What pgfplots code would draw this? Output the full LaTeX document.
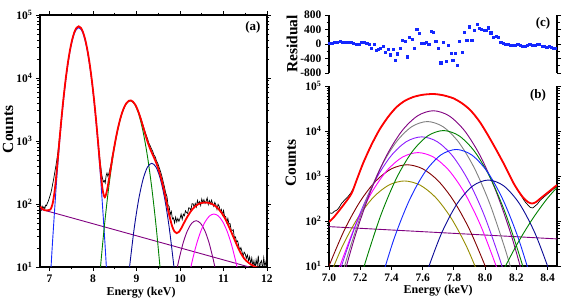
\documentclass[border=0pt]{standalone}
\usepackage{fontspec}
\setmainfont{Liberation Serif}
\usepackage{pgfplots}
\pgfplotsset{compat=1.18}
\definecolor{cBlue}{RGB}{20,40,255}
\definecolor{cNavy}{RGB}{10,10,150}
\definecolor{cGreen}{RGB}{0,128,0}
\definecolor{cPurple}{RGB}{128,0,128}
\definecolor{cMag}{RGB}{255,0,255}
\definecolor{cGray}{RGB}{128,128,128}
\definecolor{cViolet}{RGB}{140,30,255}
\definecolor{cBrown}{RGB}{128,0,0}
\definecolor{cOlive}{RGB}{150,140,0}
\definecolor{cBg}{RGB}{128,0,128}
\pgfplotsset{
  myax/.style={
    scale only axis, anchor=south west,
    tick align=outside,
    axis line style={line width=1.3pt},
    tick style={black, line width=0.9pt},
    major tick length=4pt, minor tick length=2.5pt,
    tick label style={font=\fontsize{11.5}{12}\selectfont\bfseries},
    xlabel style={font=\fontsize{12}{13}\selectfont\bfseries},
    ylabel style={font=\fontsize{15.5}{16}\selectfont\bfseries},
    /pgf/number format/assume math mode=true,
  },
  comp/.style={line width=0.9pt, smooth},
}
\begin{document}
\begin{tikzpicture}
\useasboundingbox (0,0) rectangle (568pt,300pt);
% ---------------- panel (a)
\begin{axis}[myax, ymode=log, ymin=10, ymax=100000,
  ytick={10,100,1000,10000,100000},
  yticklabels={10\textsuperscript{1},10\textsuperscript{2},10\textsuperscript{3},10\textsuperscript{4},10\textsuperscript{5}},
  minor ytick={20,30,40,50,60,70,80,90,200,300,400,500,600,700,800,900,2000,3000,4000,5000,6000,7000,8000,9000,20000,30000,40000,50000,60000,70000,80000,90000},
  at={(40pt,33pt)}, width=227pt, height=252pt,
  xmin=6.78, xmax=12,
  xtick={7,8,9,10,11,12}, xticklabels={7,8,9,10,11,12},
  minor xtick={7.5,8.5,9.5,10.5,11.5},
  xlabel={Energy (keV)}, xlabel style={at={(axis description cs:0.445,-0.102)},anchor=center},
  ylabel={Counts}, ylabel style={at={(axis description cs:-0.141,0.546)},anchor=center}]
\addplot[black, line width=0.7pt] coordinates {
(6.79,86)(6.81,80)(6.83,92)(6.85,85)(6.87,90)(6.89,84)(6.91,96)(6.93,94)(6.95,104)(6.97,110)(6.99,122)
(7.01,135)(7.03,150)(7.05,172)(7.07,205)(7.09,240)(7.11,290)(7.13,350)(7.15,420)(7.17,520)(7.19,650)
(7.21,860)(7.23,1150)(7.25,1500)(7.27,2150)(7.32,4720)(7.37,9480)(7.42,17100)(7.47,27800)(7.52,40600)
(7.57,53200)(7.62,62600)(7.67,66000)(7.72,62600)(7.77,53200)(7.82,40600)(7.87,27800)(7.92,17100)
(7.97,9450)(8.02,4700)(8.07,2120)(8.10,1250)(8.12,900)(8.15,560)(8.18,380)(8.20,290)(8.22,250)
(8.24,225)(8.26,235)(8.28,215)(8.30,280)(8.32,310)(8.34,275)(8.36,300)(8.38,340)(8.40,390)(8.42,450)
(8.44,570)(8.47,700)(8.52,1070)(8.57,1570)(8.62,2180)(8.67,2840)(8.72,3480)(8.77,4010)(8.82,4330)
(8.87,4400)(8.92,4200)(8.97,3770)(9.02,3200)(9.07,2600)(9.12,2050)(9.17,1600)(9.22,1250)(9.25,1100)
(9.28,940)(9.31,850)(9.34,760)(9.37,690)(9.40,600)(9.43,560)(9.46,480)(9.49,440)(9.52,380)(9.55,330)
(9.58,280)(9.61,230)(9.64,190)(9.67,150)
(9.700,131)(9.725,95)(9.750,91)(9.775,68)(9.800,76)(9.825,58)(9.850,60)(9.875,50)(9.900,62)(9.925,52)
(9.950,59)(9.975,53)(10.000,59)(10.025,69)(10.050,57)(10.075,69)(10.100,65)(10.125,78)(10.150,73)
(10.175,71)(10.200,87)(10.225,86)(10.250,79)(10.275,101)(10.300,101)(10.325,89)(10.350,102)(10.375,90)
(10.400,114)(10.425,100)(10.450,109)(10.475,95)(10.500,120)(10.525,105)(10.550,117)(10.575,102)
(10.600,111)(10.625,125)(10.650,98)(10.675,113)(10.700,101)(10.725,115)(10.750,101)(10.775,92)
(10.800,106)(10.825,97)(10.850,82)(10.875,99)(10.900,92)(10.925,76)(10.950,82)(10.975,67)(11.000,79)
(11.025,64)(11.050,63)(11.075,51)(11.100,59)(11.125,48)(11.150,49)(11.175,39)(11.200,38)(11.225,39)
(11.250,29)(11.275,30)(11.300,25)(11.325,26)(11.350,21.5)(11.375,18.6)(11.400,20.3)(11.425,17.5)
(11.450,14.8)(11.475,17.2)(11.500,16.1)(11.525,13.8)(11.550,15.5)(11.575,12.6)(11.600,14.5)(11.625,11.2)
(11.650,13.9)(11.675,10.4)(11.700,12.5)(11.725,9.5)(11.750,13.0)(11.775,10.6)(11.800,15.2)(11.825,9.2)
(11.850,11.8)(11.875,12.6)(11.900,9.0)(11.925,14.0)(11.950,10.2)(11.975,12.1)(12.000,9.5)};
\addplot[cBg, line width=0.9pt] coordinates {(6.79,82.8)(11.59,10)};
\addplot[cBlue, comp] coordinates {(7.02,6.73)(7.07,26.1)(7.17,281.8)(7.27,1977)(7.37,8995)(7.47,26546)(7.57,50816)(7.67,63096)(7.77,50816)(7.87,26546)(7.97,8995)(8.07,1977)(8.17,281.8)(8.27,26.1)(8.32,6.73)};
\addplot[cGreen, comp] coordinates {(8.105,2.97)(8.155,7.60)(8.255,41.0)(8.355,170.6)(8.455,548)(8.555,1358)(8.655,2600)(8.755,3837)(8.855,4365)(8.955,3837)(9.055,2600)(9.155,1358)(9.255,548)(9.355,170.6)(9.455,41.0)(9.555,7.60)(9.605,2.97)};
\addplot[cNavy, comp] coordinates {(8.80,5.38)(8.85,11.56)(8.95,43.0)(9.05,119)(9.15,247)(9.25,383)(9.35,443)(9.45,383)(9.55,247)(9.65,119)(9.75,43.0)(9.85,11.56)(9.90,5.38)};
\addplot[cPurple, comp] coordinates {(9.87,5.52)(9.92,8.53)(9.97,12.6)(10.07,23.9)(10.17,37.7)(10.27,49.5)(10.37,54.3)(10.47,49.5)(10.57,37.7)(10.67,23.9)(10.77,12.6)(10.82,8.53)(10.87,5.52)};
\addplot[cMag, comp] coordinates {(10.18,5.82)(10.28,12.4)(10.38,23.1)(10.48,37.3)(10.58,52.6)(10.68,64.7)(10.78,69.3)(10.88,64.7)(10.98,52.6)(11.08,37.3)(11.18,23.1)(11.28,12.4)(11.38,5.82)};
\addplot[red, line width=1.8pt, smooth] coordinates {
(6.79,91)(6.83,84)(6.88,80)(6.94,79)(6.98,80)(7.02,81.7)(7.07,101)(7.12,167)(7.17,366)(7.22,896)(7.27,2140)
(7.32,4731)(7.37,9488)(7.42,17150)(7.47,27865)(7.52,40668)(7.57,53280)(7.62,62670)(7.67,66135)(7.72,62650)
(7.77,53260)(7.82,40650)(7.87,27850)(7.92,17130)(7.97,9475)(8.02,4717)(8.07,2126)(8.12,882)(8.17,357)
(8.22,169)(8.27,128)(8.32,163)(8.37,257)(8.42,423)(8.47,686)(8.52,1064)(8.57,1568)(8.62,2176)(8.67,2841)
(8.72,3484)(8.77,4012)(8.82,4335)(8.87,4405)(8.92,4197)(8.97,3771)(9.02,3195)(9.07,2574)(9.12,1996)
(9.17,1516)(9.22,1155)(9.27,903)(9.32,731)(9.37,609)(9.42,510)(9.47,418)(9.52,331)(9.57,250)(9.62,180)
(9.67,125)(9.72,84)(9.77,59.4)(9.82,44.2)(9.87,36.7)(9.92,34.5)(9.97,35.8)(10.02,40.2)(10.07,46.8)
(10.12,54.5)(10.17,62.9)(10.22,71.6)(10.27,80.2)(10.32,87.8)(10.37,94.3)(10.42,99.3)(10.47,102.8)
(10.52,104.7)(10.57,105.6)(10.62,105.1)(10.67,103.6)(10.72,100.9)(10.77,97.2)(10.82,92.0)(10.87,85.7)
(10.92,78.2)(10.97,70.1)(11.02,61.5)(11.07,52.9)(11.12,44.4)(11.17,37.1)(11.22,30.8)(11.27,25.6)
(11.32,21.3)(11.37,18.0)(11.42,15.6)(11.47,13.8)(11.52,12.6)(11.57,11.8)(11.62,11.1)(11.67,10.6)
(11.72,10.1)(11.80,9.7)};
\node[font=\fontsize{13}{14}\selectfont\bfseries] at (axis description cs:0.938,0.952) {(a)};
\end{axis}
% ---------------- panel (b)
\begin{axis}[myax, ymode=log, ymin=10, ymax=100000,
  ytick={10,100,1000,10000,100000},
  yticklabels={10\textsuperscript{1},10\textsuperscript{2},10\textsuperscript{3},10\textsuperscript{4},10\textsuperscript{5}},
  minor ytick={20,30,40,50,60,70,80,90,200,300,400,500,600,700,800,900,2000,3000,4000,5000,6000,7000,8000,9000,20000,30000,40000,50000,60000,70000,80000,90000},
  at={(329pt,34pt)}, width=228pt, height=180pt,
  xmin=7, xmax=8.46, axis x line*=bottom,
  xtick={7,7.2,7.4,7.6,7.8,8,8.2,8.4}, xticklabels={7.0,7.2,7.4,7.6,7.8,8.0,8.2,8.4},
  xlabel={Energy (keV)}, xlabel style={at={(axis description cs:0.479,-0.137)},anchor=center},
  ylabel={Counts}, ylabel style={at={(axis description cs:-0.167,0.572)},anchor=center}]
\addplot[black, line width=0.7pt] coordinates {
(7.000,155)(7.010,150)(7.020,148)(7.035,165)(7.050,174)(7.065,200)(7.080,245)(7.095,280)(7.110,316)
(7.125,360)(7.140,420)(7.160,560)(7.176,794)(7.218,1905)(7.270,4786)(7.325,10965)(7.380,20893)
(7.432,33884)(7.485,46774)(7.539,56885)(7.600,63826)(7.668,66374)(7.730,62373)(7.797,53211)
(7.850,41687)(7.904,29309)(7.960,16982)(8.011,8872)(8.065,4169)(8.118,1910)(8.150,1148)(8.182,690)
(8.214,450)(8.246,300)(8.260,255)(8.275,225)(8.290,200)(8.305,195)(8.320,215)(8.335,240)(8.353,290)
(8.380,350)(8.400,400)(8.430,490)(8.460,600)};
\addplot[cBg, line width=0.9pt] coordinates {(7.0,75)(8.46,40)};
\addplot[cBrown, comp] coordinates {(6.95,3.39)(7.0,10)(7.1,64.6)(7.2,275)(7.3,776)(7.4,1445)(7.5,1778)(7.6,1445)(7.7,776)(7.8,275)(7.9,64.6)(8.0,10)(8.05,3.39)};
\addplot[cOlive, comp] coordinates {(6.983,3.89)(7.083,26.1)(7.183,115)(7.283,333)(7.383,628)(7.483,776)(7.583,628)(7.683,333)(7.783,115)(7.883,26.1)(7.983,3.89)};
\addplot[cMag, comp] coordinates {(7.02,2.95)(7.07,10)(7.17,80.7)(7.27,410)(7.37,1309)(7.47,2624)(7.57,3311)(7.67,2624)(7.77,1309)(7.87,410)(7.97,80.7)(8.07,10)(8.12,2.95)};
\addplot[cViolet, comp] coordinates {(7.034,2.83)(7.094,14.0)(7.194,134)(7.294,774)(7.394,2716)(7.494,5768)(7.594,7413)(7.694,5768)(7.794,2716)(7.894,774)(7.994,134)(8.094,14.0)(8.154,2.83)};
\addplot[cGray, comp] coordinates {(7.07,4.23)(7.13,22.5)(7.23,240)(7.33,1517)(7.43,5662)(7.53,12474)(7.63,16218)(7.73,12474)(7.83,5662)(7.93,1517)(8.03,240)(8.13,22.5)(8.19,4.23)};
\addplot[cPurple, comp] coordinates {(7.068,2.84)(7.168,47.3)(7.268,472)(7.368,2825)(7.468,10139)(7.568,21827)(7.668,28184)(7.768,21827)(7.868,10139)(7.968,2825)(8.068,472)(8.168,47.3)(8.268,2.84)};
\addplot[cGreen, comp] coordinates {(7.173,2.21)(7.233,12.2)(7.333,138)(7.433,908)(7.533,3483)(7.633,7816)(7.733,10233)(7.833,7816)(7.933,3483)(8.033,908)(8.133,138)(8.233,12.2)(8.293,2.21)};
\addplot[cBlue, comp] coordinates {(7.315,2.92)(7.415,38.9)(7.515,292)(7.615,1230)(7.715,2917)(7.815,3890)(7.915,2917)(8.015,1230)(8.115,292)(8.215,38.9)(8.315,2.92)};
\addplot[cNavy, comp] coordinates {(7.57,1.73)(7.62,6.28)(7.72,52.7)(7.82,241)(7.92,600)(8.02,813)(8.12,600)(8.22,241)(8.32,52.7)(8.42,6.28)(8.47,1.73)};
\addplot[cGreen, comp] coordinates {(8.10,6.2)(8.20,28.7)(8.30,107)(8.40,323)(8.50,780)};
\addplot[red, line width=1.8pt, smooth] coordinates {
(7.000,95.5)(7.030,120)(7.060,162)(7.100,245)(7.144,407)(7.176,794)(7.218,1905)(7.270,4786)(7.325,10965)
(7.380,20893)(7.432,33884)(7.485,46774)(7.539,56885)(7.600,63826)(7.668,66374)(7.730,62373)(7.797,53211)
(7.850,41687)(7.904,29309)(7.960,16982)(8.011,8872)(8.065,4169)(8.118,1910)(8.150,1148)(8.182,692)
(8.214,457)(8.246,324)(8.275,263)(8.300,245)(8.325,263)(8.353,316)(8.400,427)(8.460,631)};
\node[font=\fontsize{13}{14}\selectfont\bfseries] at (axis description cs:0.917,0.95) {(b)};
\end{axis}
% ---------------- panel (c)
\begin{axis}[myax, at={(329pt,227pt)}, width=228pt, height=58pt,
  xmin=7, xmax=8.46, ymin=-800, ymax=800, axis x line=none,
  ytick={-800,-400,0,400,800}, yticklabels={-800,-400,0,400,800},
  minor ytick={-600,-200,200,600},
  ylabel={Residual}, ylabel style={at={(axis description cs:-0.162,0.5)},anchor=center}]
\addplot[only marks, mark=square*, mark size=1.1pt, color=cBlue, mark options={draw=none, fill=cBlue}] coordinates {
(7.004,31)(7.019,31)(7.037,41)(7.054,50)(7.071,69)(7.088,50)(7.105,59)(7.122,41)(7.139,41)(7.157,13)
(7.174,-6)(7.191,4)(7.208,59)(7.225,41)(7.242,22)(7.255,4)(7.272,-107)(7.287,-15)(7.300,-163)(7.315,-144)
(7.330,-107)(7.347,-61)(7.362,-237)(7.377,-154)(7.392,-293)(7.409,-135)(7.424,-450)(7.439,-265)(7.454,-107)
(7.469,96)(7.486,69)(7.501,-348)(7.516,180)(7.531,124)(7.546,-107)(7.561,412)(7.578,291)(7.593,31)
(7.608,13)(7.623,59)(7.638,4)(7.653,347)(7.668,319)(7.683,78)(7.700,-117)(7.715,-515)(7.730,41)
(7.750,-478)(7.765,-43)(7.780,-247)(7.792,-450)(7.807,-247)(7.822,-590)(7.835,78)(7.852,-228)(7.867,319)
(7.882,96)(7.899,476)(7.914,106)(7.929,384)(7.947,541)(7.962,430)(7.977,412)(7.992,384)(8.006,384)
(8.021,449)(8.036,310)(8.054,198)(8.069,217)(8.084,198)(8.099,59)(8.114,13)(8.131,-15)(8.146,-15)
(8.161,-24)(8.178,-24)(8.193,-33)(8.208,-15)(8.225,-33)(8.240,-61)(8.255,-52)(8.270,-43)(8.285,-15)
(8.302,-33)(8.317,-33)(8.332,-15)(8.347,-15)(8.364,-61)(8.379,-52)(8.394,-80)(8.409,-61)(8.424,-80)
(8.439,-117)(8.450,-126)};
\node[font=\fontsize{13}{14}\selectfont\bfseries] at (axis description cs:0.939,0.847) {(c)};
\end{axis}
\end{tikzpicture}
\end{document}
